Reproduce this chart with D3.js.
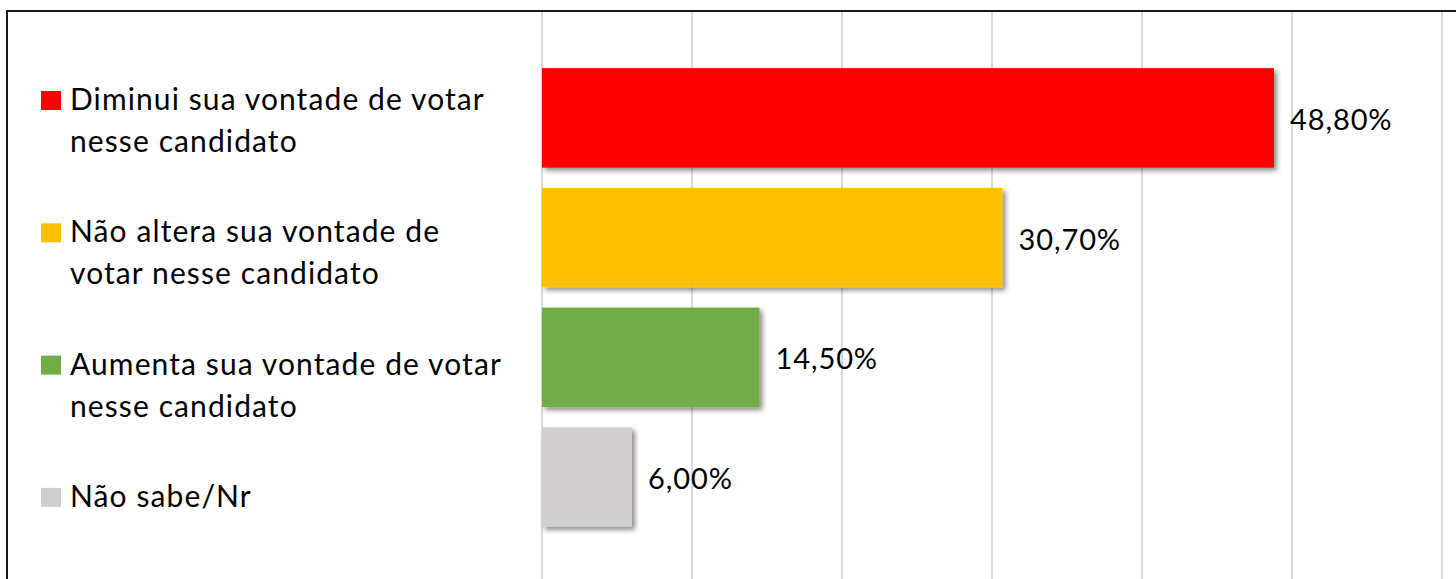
<!DOCTYPE html>
<html lang="pt">
<head>
    <meta charset="UTF-8">
    <title>Vontade de votar</title>
    <script src="https://d3js.org/d3.v7.min.js"></script>
    <style>
        body { margin: 0; background: #fff; }
        svg { display: block; }
        .legend text, .value {
            font-family: Lato, "Open Sans", sans-serif;
            font-size: 29px;
            letter-spacing: 0.9px;
            fill: #000;
        }
        .legend text { font-size: 30px; letter-spacing: 1.1px; }
        .grid line { stroke: #d9d9d9; stroke-width: 2; }
    </style>
</head>
<body>
    <svg width="1456" height="579"></svg>
    <script>
        // dados
        var categories = [
            "Diminui sua vontade de votar nesse candidato",
            "Não altera sua vontade de votar nesse candidato",
            "Aumenta sua vontade de votar nesse candidato",
            "Não sabe/Nr"
        ];
        var legendLines = [
            ["Diminui sua vontade de votar", "nesse candidato"],
            ["Não altera sua vontade de", "votar nesse candidato"],
            ["Aumenta sua vontade de votar", "nesse candidato"],
            ["Não sabe/Nr"]
        ];
        var values = [48.8, 30.7, 14.5, 6.0];
        var colors = ["#ff0000", "#ffc000", "#70ad47", "#d0cece"];
        var gridTicks = [0, 10, 20, 30, 40, 50, 60];

        var svg = d3.select("svg"),
            width = +svg.attr("width"),
            height = +svg.attr("height");

        var x = d3.scaleLinear().domain([0, 60]).range([542, 1442]);
        var y = d3.scaleBand().domain(categories).range([58, 537])
            .paddingInner(0.169).paddingOuter(0.0845);

        var defs = svg.append("defs");
        var f = defs.append("filter").attr("id", "shadow")
            .attr("x", "-10%").attr("y", "-10%").attr("width", "130%").attr("height", "130%");
        f.append("feDropShadow").attr("dx", 3).attr("dy", 3)
            .attr("stdDeviation", 2.5).attr("flood-color", "#000").attr("flood-opacity", 0.45);

        // linhas de grade
        svg.append("g").attr("class", "grid")
            .selectAll("line").data(gridTicks).enter().append("line")
            .attr("x1", function(d) { return x(d); })
            .attr("x2", function(d) { return x(d); })
            .attr("y1", 11).attr("y2", height);

        // borda do gráfico (topo e esquerda)
        svg.append("path")
            .attr("d", "M7," + height + "V11H" + width)
            .attr("fill", "none").attr("stroke", "#1a1a1a").attr("stroke-width", 2);

        // barras
        svg.append("g").selectAll("rect").data(values).enter().append("rect")
            .attr("x", x(0))
            .attr("y", function(d, i) { return y(categories[i]); })
            .attr("width", function(d) { return x(d) - x(0); })
            .attr("height", y.bandwidth())
            .attr("fill", function(d, i) { return colors[i]; })
            .attr("filter", "url(#shadow)");

        // rótulos de valor
        svg.append("g").selectAll("text").data(values).enter().append("text")
            .attr("class", "value")
            .attr("x", function(d) { return x(d) + 16; })
            .attr("y", function(d, i) { return y(categories[i]) + y.bandwidth() / 2 + 12; })
            .text(function(d) { return d.toFixed(2).replace(".", ",") + "%"; });

        // legenda
        var legendStep = 132.3;
        var item = svg.append("g").attr("class", "legend")
            .selectAll("g").data(legendLines).enter().append("g")
            .attr("transform", function(d, i) { return "translate(0," + (91 + i * legendStep) + ")"; });

        item.append("rect")
            .attr("x", 41).attr("y", 0).attr("width", 20).attr("height", 19)
            .attr("fill", function(d, i) { return colors[i]; });

        item.append("text")
            .attr("x", 70).attr("y", 19)
            .selectAll("tspan").data(function(d) { return d; }).enter().append("tspan")
            .attr("x", 70)
            .attr("dy", function(d, j) { return j === 0 ? 0 : 42; })
            .text(function(d) { return d; });
    </script>
</body>
</html>
